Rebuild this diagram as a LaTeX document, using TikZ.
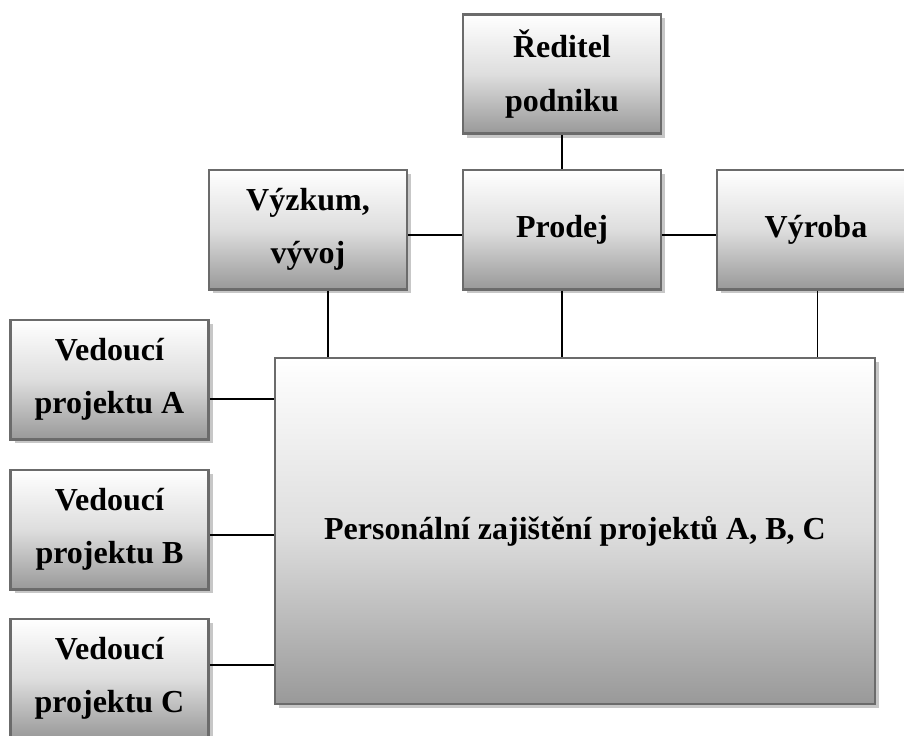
\documentclass[tikz,border=0pt]{standalone}
\usepackage{fontspec}
\setmainfont{Liberation Serif}
\usetikzlibrary{shadows,calc}

\tikzset{
  orgbox/.style={
    rectangle, draw=black!58, line width=2pt,
    top color=white, bottom color=black!40, middle color=black!13,
    drop shadow={shadow xshift=3pt, shadow yshift=-3pt, fill=black!22, opacity=1},
    align=center, inner sep=2pt,
    font=\fontsize{24}{40}\selectfont\bfseries
  },
  smallbox/.style={orgbox, minimum width=148.5pt, minimum height=89.5pt},
  link/.style={draw=black, line width=1.1pt}
}

\begin{document}
\begin{tikzpicture}[x=0.75pt,y=-0.75pt]
  \useasboundingbox (0,0) rectangle (904,736);
  \clip (0,0) rectangle (904,736);

  % top management and departments
  \node[smallbox] (reditel) at (562,74)    {Ředitel\\podniku};
  \node[smallbox] (vyzkum)  at (308,229.5) {Výzkum,\\vývoj};
  \node[smallbox] (prodej)  at (562,229.5) {Prodej};
  \node[smallbox] (vyroba)  at (816,229.5) {Výroba};

  % project leaders
  \node[smallbox] (veda) at (109.5,379.5) {Vedoucí\\projektu A};
  \node[smallbox] (vedb) at (109.5,529.5) {Vedoucí\\projektu B};
  \node[smallbox] (vedc) at (109.5,678.5) {Vedoucí\\projektu C};

  % project staffing
  \node[orgbox, minimum width=450pt, minimum height=259.5pt] (pers) at (575,531)
    {Personální zajištění projektů A, B, C};

  % connectors
  \draw[link] (reditel.south) -- (prodej.north);
  \draw[link] ([yshift=-4pt]vyzkum.east) -- ([yshift=-4pt]prodej.west);
  \draw[link] ([yshift=-4pt]prodej.east) -- ([yshift=-4pt]vyroba.west);

  \draw[link] ([xshift=15pt]vyzkum.south) -- ([xshift=15pt]vyzkum.south |- pers.north);
  \draw[link] (prodej.south) -- (prodej.south |- pers.north);
  \draw[link] ([xshift=1pt]vyroba.south) -- ([xshift=1pt]vyroba.south |- pers.north);

  \draw[link] ([yshift=-14.6pt]veda.east) -- ([yshift=-14.6pt]veda.east -| pers.west);
  \draw[link] ([yshift=-4pt]vedb.east) -- ([yshift=-4pt]vedb.east -| pers.west);
  \draw[link] ([yshift=10pt]vedc.east) -- ([yshift=10pt]vedc.east -| pers.west);
\end{tikzpicture}
\end{document}
